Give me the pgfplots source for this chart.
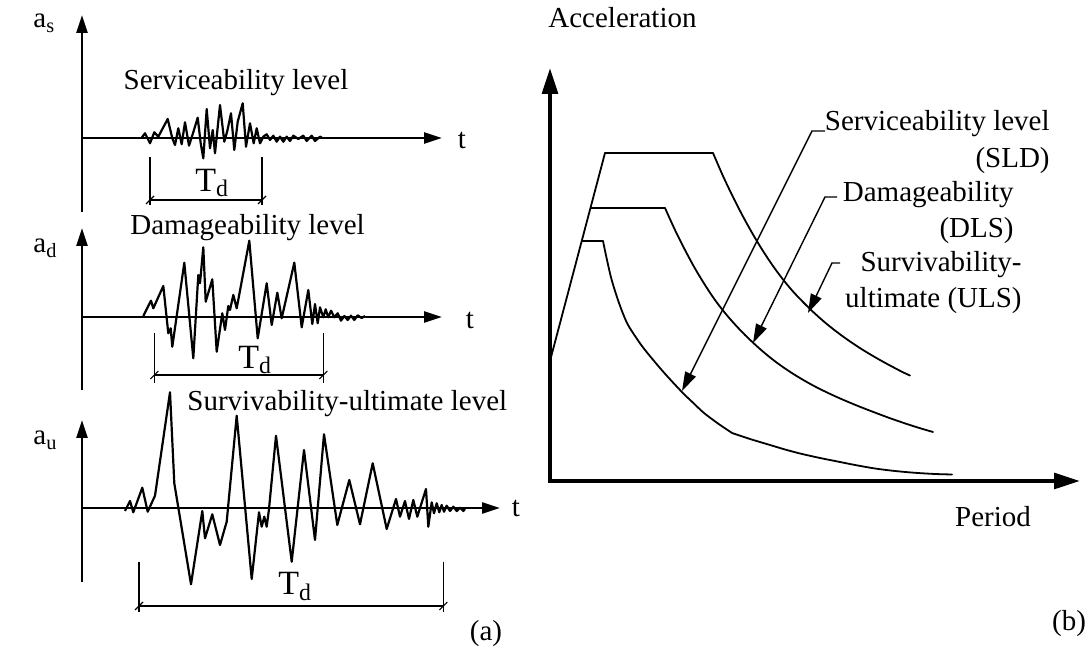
\documentclass[border=0pt]{standalone}
\usepackage{pgfplots}
\pgfplotsset{compat=1.18}
\usepackage{fontspec}
\setmainfont{Liberation Serif}
\usetikzlibrary{arrows.meta}

\tikzset{
  sig/.style={line width=1.1pt, line join=round},
  tax/.style={line width=1.3pt, -{Triangle[length=9pt,width=5.5pt]}},
  bax/.style={line width=2pt, -{Triangle[length=13pt,width=7.8pt]}},
  spec/.style={line width=0.9pt, line cap=round, line join=round},
  lead/.style={line width=0.7pt, -{Triangle[length=9.5pt,width=5.8pt]}},
  dim/.style={line width=0.55pt},
  lbl/.style={font=\fontsize{14.5}{17}\selectfont, inner sep=0pt},
  tdl/.style={font=\fontsize{17}{20}\selectfont, inner sep=0pt},
}

\begin{document}
\begin{tikzpicture}
\begin{axis}[
  scale only axis, width=544pt, height=323.5pt,
  xmin=0, xmax=1088, ymin=0, ymax=647, y dir=reverse,
  hide axis, clip=false,
]
\path (axis cs:0,0) rectangle (axis cs:1088,647);

% ---------------- (a) ground motion records ----------------
% serviceability level
\addplot[tax] coordinates {(82,212) (82,15)};
\addplot[tax] coordinates {(82,138) (442,138)};
\addplot[sig] coordinates {
(141.7,137.7) (145,133.3) (150,143.3) (154.3,132.3) (158.3,136.7) (167.7,119)
(172.3,138.3) (175,145) (178.3,128.3) (181.7,144.3) (185,122.3) (189,145.7)
(193.3,132.3) (197.7,117.7) (200.7,143.3) (203.3,158.3) (206.7,109) (210,148.3)
(212.7,130) (215,153.3) (220,105) (224.3,141.7) (227.3,131) (231,113.3)
(234.3,150) (237.7,121.7) (242.7,103.3) (246,146.7) (250,123.3) (253.7,143.3)
(256.7,128.3) (260,143.3) (263.3,136.7) (266.7,134.3) (270,140) (273.3,135.7)
(276.7,141.7) (280,136.7) (283.3,141.7) (286.7,136.7) (290,141) (293.3,135.7)
(298.3,139) (303.3,135.7) (306.7,141) (311.7,135.7) (315,141) (320,136.7) (322,137.7)};
\addplot[dim] coordinates {(150,157) (150,205)};
\addplot[dim] coordinates {(262,157) (262,205)};
\addplot[dim] coordinates {(150,200) (262,200)};
\addplot[dim] coordinates {(146,204) (154,196)};
\addplot[dim] coordinates {(258,204) (266,196)};
\node[lbl, anchor=base west] at (axis cs:123.3,90) {Serviceability level};
\node[tdl, anchor=base west] at (axis cs:195,191.7) {T\textsubscript{d}};
\node[lbl, anchor=base west] at (axis cs:33,28) {a\textsubscript{s}};
\node[lbl] at (axis cs:462,140) {t};

% damageability level
\addplot[tax] coordinates {(82,390) (82,228)};
\addplot[tax] coordinates {(82,317) (442,317)};
\addplot[sig] coordinates {
(143.3,316) (151,300.7) (153.3,308.3) (163.3,286) (168.3,333.3) (170.7,328.3)
(172.3,346.7) (184.3,262.7) (193.3,358.3) (198.3,275) (200,283.3) (203.3,247.3)
(205.7,301.7) (212.3,279.3) (216.7,351.7) (222.3,313.3) (225,330) (228.3,306)
(230,310) (233.3,295) (236.7,308.3) (249.3,240.7) (257.7,338.3) (266.7,283.3)
(271.7,325) (277.3,292.7) (281.7,318.3) (294.3,262.7) (301.7,327.3) (308.3,290)
(312.3,324) (315,304) (317.7,323.3) (320,307.3) (323.3,317.3) (325.7,309.3)
(328.3,317.3) (331,310.7) (334.3,317.3) (337.7,313.3) (341,320.7) (344.3,316)
(347.7,320) (351,315.7) (354.3,320) (357.7,315.3) (361.7,318) (365,316)};
\addplot[dim] coordinates {(154.3,333) (154.3,383)};
\addplot[dim] coordinates {(323.3,333) (323.3,383)};
\addplot[dim] coordinates {(154.3,375) (323.3,375)};
\addplot[dim] coordinates {(150.3,379) (158.3,371)};
\addplot[dim] coordinates {(319.3,379) (327.3,371)};
\node[lbl, anchor=base west] at (axis cs:130,235) {Damageability level};
\node[tdl, anchor=base west] at (axis cs:238,368.3) {T\textsubscript{d}};
\node[lbl, anchor=base west] at (axis cs:33,253) {a\textsubscript{d}};
\node[lbl] at (axis cs:470,320) {t};

% survivability-ultimate level
\addplot[tax] coordinates {(82,582) (82,420)};
\addplot[tax] coordinates {(82,508) (500,508)};
\addplot[sig] coordinates {
(125,511) (130,501) (133.3,512.3) (142.3,487.7) (147.7,511.7) (155,495.7)
(170,392.3) (174.3,483.3) (191,584.3) (202.3,511) (205,538.3) (212.3,514.3)
(220,545) (226.7,521.7) (236.7,415.7) (251.7,579) (259,512.3) (261.7,526.7)
(264.3,516.7) (266.7,526.7) (269,509) (276,435.7) (291.7,561.7) (304,450)
(315,540) (324,434.3) (337.3,525) (349.3,480) (360,524.3) (372.7,463.3)
(386.7,529) (396,499) (400,516.7) (405,501) (409,519) (413.3,500)
(417.3,516.7) (426,489) (428.3,526.7) (431.7,502.3) (434,513.3) (436.7,503.3)
(439.3,512.3) (441.7,505) (444,511.7) (446.7,505.7) (450,511) (453.3,506.7)
(456.7,511) (460,507.7) (463.3,511) (465,509)};
\addplot[dim] coordinates {(139,561.7) (139,611.7)};
\addplot[dim] coordinates {(443.3,561.7) (443.3,611.7)};
\addplot[dim] coordinates {(139,606) (443.3,606)};
\addplot[dim] coordinates {(135,610) (143,602)};
\addplot[dim] coordinates {(439.3,610) (447.3,602)};
\node[lbl, anchor=base west] at (axis cs:187,411) {Survivability-ultimate level};
\node[tdl, anchor=base west] at (axis cs:278,595) {T\textsubscript{d}};
\node[lbl, anchor=base west] at (axis cs:33,445) {a\textsubscript{u}};
\node[lbl] at (axis cs:516,508) {t};
\node[lbl] at (axis cs:486,634) {(a)};

% ---------------- (b) design spectra ----------------
\addplot[bax] coordinates {(550,483) (550,68)};
\addplot[bax] coordinates {(548,481) (1080,481)};
% common rising branch
\addplot[spec] coordinates {(550,361) (605,153)};
% SLD spectrum
\addplot[spec] coordinates {(605,153) (713,153)};
\addplot[spec, smooth] coordinates {
(713,153) (723,176) (733,197) (743,216.5) (753,234.5) (763,251) (773,266)
(783,279.5) (793,291.5) (803,302) (813,311.8) (823,320.8) (833,329) (843,336.5)
(853,343.5) (863,350) (873,356) (883,361.7) (893,367.1) (903,372.3) (910,375.5)};
% DLS spectrum
\addplot[spec] coordinates {(591,208) (665,208)};
\addplot[spec, smooth] coordinates {
(665,208) (675,230) (685,250) (695,268.5) (705,285) (715,300) (725,313)
(735,324.5) (745,335) (755,344.5) (765,353.3) (775,361.3) (785,368.5) (795,375)
(805,381) (815,386.5) (825,391.5) (835,396.2) (845,400.6) (860,406.8)
(875,412.6) (890,418.2) (905,423.4) (920,428.2) (933,432)};
% ULS spectrum
\addplot[spec] coordinates {(582,241) (603,241)};
\addplot[spec, smooth] coordinates {
(603,241) (607,260) (611.7,280) (619,303) (627,323) (636,337.5) (645,350)
(663,371.5) (681.6,391.7) (693,402.7) (704,413) (718,423.5) (732,433)};
\addplot[spec, smooth] coordinates {
(732,433) (750,439) (770,445) (785,449.5) (800,453.5) (820,458) (840,462)
(855,465) (875,468.5) (895,471) (915,472.8) (935,474) (952,474.5)};
% leaders
\addplot[lead] coordinates {(825,131) (812,131) (682,391)};
\addplot[lead] coordinates {(837,197) (825,197) (753,343)};
\addplot[lead] coordinates {(840,263) (832,263) (808,313)};

\node[lbl, anchor=base east] at (axis cs:1050,131) {Serviceability level};
\node[lbl, anchor=base east] at (axis cs:1050,168) {(SLD)};
\node[lbl, anchor=base east] at (axis cs:1014,202) {Damageability};
\node[lbl, anchor=base east] at (axis cs:1014,238) {(DLS)};
\node[lbl, anchor=base east] at (axis cs:1022,272) {Survivability-};
\node[lbl, anchor=base east] at (axis cs:1022,308) {ultimate (ULS)};
\node[lbl, anchor=base west] at (axis cs:548,28) {Acceleration};
\node[lbl] at (axis cs:993,517) {Period};
\node[lbl] at (axis cs:1069,624) {(b)};
\end{axis}
\end{tikzpicture}
\end{document}
